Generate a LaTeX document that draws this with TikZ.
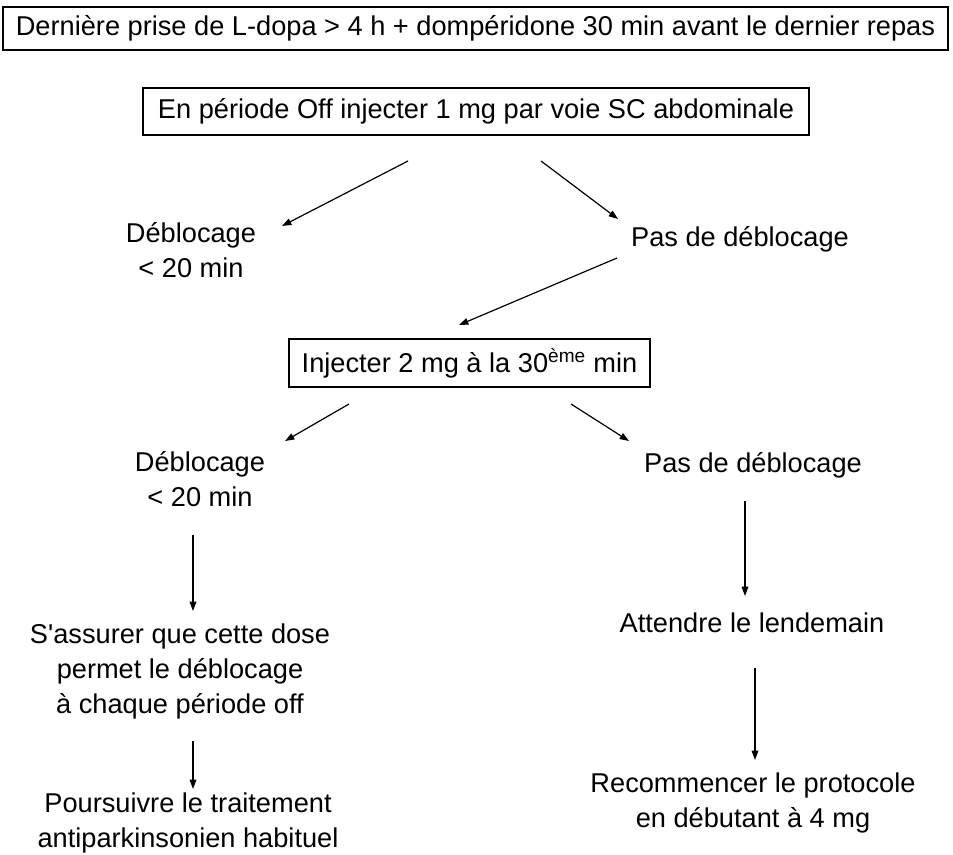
\documentclass[tikz,border=0pt]{standalone}
\usepackage{fontspec}
\setmainfont{Liberation Sans}[Ligatures=TeXOff]
\usetikzlibrary{arrows.meta}
\begin{document}
\begin{tikzpicture}[x=0.75pt,y=-0.75pt,
  txt/.style={font=\fontsize{20.4}{26.25}\selectfont, align=center, inner sep=0pt},
  boxed/.style={draw, line width=0.8pt, font=\fontsize{20.4}{26.25}\selectfont, inner sep=0pt},
  arr/.style={line width=0.9pt, -{Triangle[length=7pt,width=5pt]}}]
\useasboundingbox (0,0) rectangle (953,854);
% boxes
\node[boxed, minimum width=945*0.75pt, minimum height=43*0.75pt] (top) at (475.5,28.5) {Dernière prise de L-dopa > 4 h + dompéridone 30 min avant le dernier repas};
\node[boxed, minimum width=666*0.75pt, minimum height=47*0.75pt] (inj1) at (476,111.5) {En période Off injecter 1 mg par voie SC abdominale};
\node[boxed, minimum width=361*0.75pt, minimum height=48*0.75pt] (inj2) at (469.5,363) {Injecter 2 mg à la 30\textsuperscript{ème} min};
% labels
\node[txt] (deb1) at (191,250) {Déblocage\\< 20 min};
\node[txt] (pas1) at (740,239) {Pas de déblocage};
\node[txt] (deb2) at (200,479.5) {Déblocage\\< 20 min};
\node[txt] (pas2) at (753,465) {Pas de déblocage};
\node[txt] (assur) at (180,671) {S'assurer que cette dose\\permet le déblocage\\à chaque période off};
\node[txt] (pours) at (188,822.5) {Poursuivre le traitement\\antiparkinsonien habituel};
\node[txt] (att) at (752,623) {Attendre le lendemain};
\node[txt] (rec) at (753,802.5) {Recommencer le protocole\\en débutant à 4 mg};
% arrow end points
\coordinate (a1) at (408,161); \coordinate (a2) at (282,226);
\coordinate (b1) at (541,161); \coordinate (b2) at (618,219);
\coordinate (c1) at (617,258); \coordinate (c2) at (459,325);
\coordinate (d1) at (349,404); \coordinate (d2) at (285,441);
\coordinate (e1) at (571,404); \coordinate (e2) at (629,441);
\coordinate (f1) at (193,535); \coordinate (f2) at (193,611);
\coordinate (g1) at (745,501); \coordinate (g2) at (745,596);
\coordinate (h1) at (193,741); \coordinate (h2) at (193,789);
\coordinate (i1) at (755,668); \coordinate (i2) at (755,760);
\draw[arr] (a1) -- (a2);
\draw[arr] (b1) -- (b2);
\draw[arr] (c1) -- (c2);
\draw[arr] (d1) -- (d2);
\draw[arr] (e1) -- (e2);
\draw[arr] (f1) -- (f2);
\draw[arr] (g1) -- (g2);
\draw[arr] (h1) -- (h2);
\draw[arr] (i1) -- (i2);
\end{tikzpicture}
\end{document}
